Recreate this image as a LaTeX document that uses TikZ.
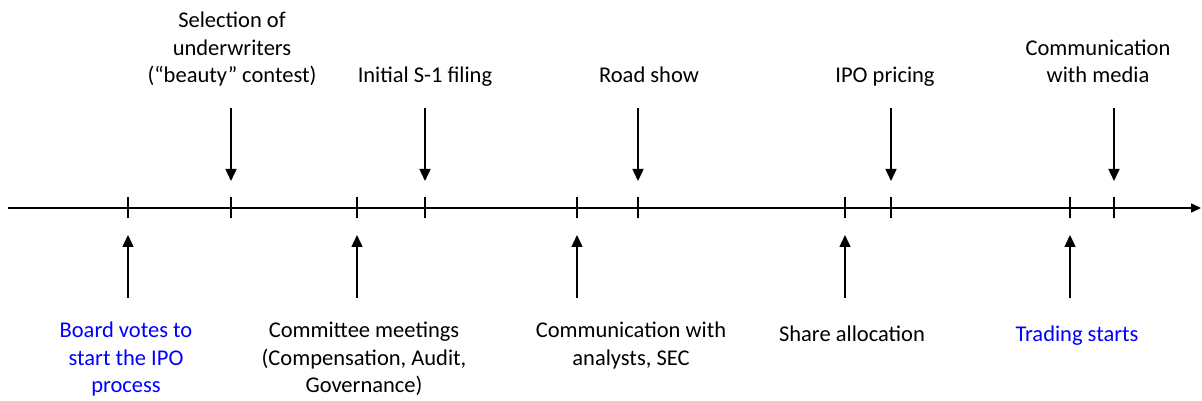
\documentclass[tikz,border=0pt]{standalone}
\usepackage{fontspec}
\setmainfont{Carlito}
\usetikzlibrary{arrows.meta, positioning}
\tikzset{
  axis/.style={line width=1.5pt, -{Triangle[width=9pt,length=10pt]}},
  tickmark/.style={line width=1.2pt},
  evt/.style={line width=1.5pt, -{Triangle[width=11pt,length=12pt]}},
  lbl/.style={align=center, inner sep=0pt, font=\fontsize{22.5}{27.5}\selectfont},
  abovelbl/.style={lbl, anchor=south, execute at end node=\strut},
  belowlbl/.style={lbl, anchor=north, execute at begin node=\strut},
}

\begin{document}
\begin{tikzpicture}[x=1pt, y=1pt]
  \useasboundingbox (0,0) rectangle (1202,401);
  \coordinate (start) at (8,193);
  \coordinate (end)   at (1201,193);
  \draw[axis] (start) -- (end);
  % steps above the time line
  \foreach \id/\x/\lx/\txt in {
      sel/231/232/{Selection of\\underwriters\\(“beauty” contest)},
      filing/425/425/{Initial S-1 filing},
      road/638/649/{Road show},
      pricing/891/885/{IPO pricing},
      media/1114/1098/{Communication\\with media}}{
    \coordinate (\id-tick) at (\x,193);
    \draw[tickmark] ([yshift=-10.5pt]\id-tick) -- ([yshift=10.5pt]\id-tick);
    \coordinate (\id-from) at (\x,293);
    \coordinate (\id-to)   at (\x,220);
    \draw[evt] (\id-from) -- (\id-to);
    \node[abovelbl] (\id) at (\lx,310) {\txt};
  }
  % steps below the time line
  \foreach \id/\x/\lx/\col/\txt in {
      board/128/126/blue/{Board votes to\\start the IPO\\process},
      committee/357/364/black/{Committee meetings\\(Compensation, Audit,\\Governance)},
      analysts/577/631/black/{Communication with\\analysts, SEC},
      alloc/845/852/black/{Share allocation},
      trading/1070/1077/blue/{Trading starts}}{
    \coordinate (\id-tick) at (\x,193);
    \draw[tickmark] ([yshift=-10.5pt]\id-tick) -- ([yshift=10.5pt]\id-tick);
    \coordinate (\id-from) at (\x,103);
    \coordinate (\id-to)   at (\x,166);
    \draw[evt] (\id-from) -- (\id-to);
    \node[belowlbl, text=\col] (\id) at (\lx,79) {\txt};
  }
\end{tikzpicture}
\end{document}
